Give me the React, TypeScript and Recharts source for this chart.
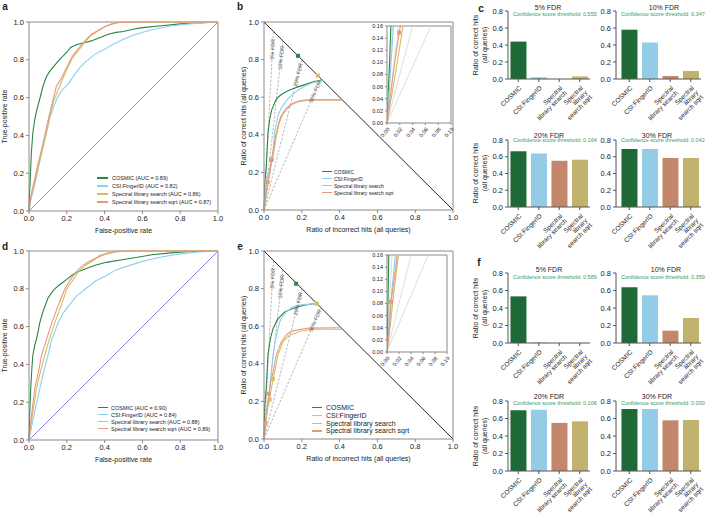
import React from "react";
import {
  LineChart,
  ComposedChart,
  BarChart,
  Line,
  Bar,
  Cell,
  Scatter,
  XAxis,
  YAxis,
  ReferenceLine,
  ReferenceDot,
} from "recharts";

const FONT = "'Liberation Sans', Arial, Helvetica, sans-serif";
const AXIS = "#8a8a8a";
const INK = "#222";

const names = ["COSMIC", "CSI:FingerID", "Spectral library search", "Spectral library search sqrt"];
const lineColors = ["#2a8543", "#8ccff0", "#d6bd62", "#e59a80"];
const barColors = ["#1e6a37", "#94cbe5", "#c3886b", "#c1b36d"];

// a: ROC curves (false-positive rate, true-positive rate)
const aCosmic = [[0, 0], [0.003, 0.1], [0.008, 0.2], [0.012, 0.3], [0.02, 0.41], [0.03, 0.48], [0.04, 0.53], [0.056, 0.59], [0.074, 0.66], [0.092, 0.71], [0.11, 0.74], [0.127, 0.76], [0.16, 0.8], [0.2, 0.84], [0.22, 0.865], [0.25, 0.88], [0.29, 0.89], [0.33, 0.9], [0.37, 0.915], [0.42, 0.935], [0.46, 0.945], [0.5, 0.95], [0.55, 0.962], [0.6, 0.97], [0.7, 0.98], [0.8, 0.99], [0.9, 0.995], [1, 1]];
const aCsi = [[0, 0], [0.01, 0.06], [0.03, 0.14], [0.05, 0.23], [0.07, 0.32], [0.092, 0.41], [0.11, 0.49], [0.13, 0.55], [0.15, 0.6], [0.175, 0.64], [0.206, 0.67], [0.24, 0.72], [0.27, 0.76], [0.3, 0.79], [0.35, 0.83], [0.39, 0.85], [0.44, 0.88], [0.48, 0.9], [0.55, 0.93], [0.64, 0.956], [0.7, 0.97], [0.76, 0.98], [0.85, 0.99], [0.95, 0.998], [1, 1]];
const aSpec = [[0, 0], [0.01, 0.07], [0.03, 0.15], [0.05, 0.24], [0.07, 0.32], [0.09, 0.41], [0.11, 0.5], [0.13, 0.58], [0.15, 0.63], [0.17, 0.68], [0.2, 0.75], [0.23, 0.81], [0.27, 0.86], [0.3, 0.9], [0.33, 0.93], [0.36, 0.95], [0.4, 0.975], [0.44, 0.99], [0.48, 0.997], [0.6, 1], [1, 1]];
const aSqrt = [[0, 0], [0.01, 0.08], [0.03, 0.17], [0.05, 0.26], [0.07, 0.34], [0.09, 0.43], [0.11, 0.52], [0.13, 0.6], [0.145, 0.66], [0.17, 0.7], [0.2, 0.76], [0.23, 0.82], [0.27, 0.87], [0.3, 0.905], [0.33, 0.935], [0.356, 0.95], [0.4, 0.975], [0.44, 0.99], [0.47, 0.997], [0.6, 1], [1, 1]];
const aAuc = ["0.89", "0.82", "0.86", "0.87"];

// d: ROC curves, second dataset
const dCosmic = [[0, 0], [0.003, 0.12], [0.009, 0.27], [0.014, 0.36], [0.02, 0.446], [0.03, 0.5], [0.04, 0.535], [0.057, 0.62], [0.074, 0.68], [0.1, 0.75], [0.12, 0.78], [0.136, 0.8], [0.16, 0.82], [0.18, 0.835], [0.2, 0.85], [0.225, 0.87], [0.26, 0.89], [0.3, 0.906], [0.35, 0.925], [0.41, 0.94], [0.5, 0.955], [0.59, 0.97], [0.65, 0.98], [0.75, 0.99], [0.85, 0.997], [1, 1]];
const dCsi = [[0, 0], [0.01, 0.05], [0.03, 0.15], [0.057, 0.27], [0.08, 0.37], [0.1, 0.446], [0.12, 0.53], [0.154, 0.62], [0.18, 0.67], [0.21, 0.71], [0.25, 0.76], [0.3, 0.8], [0.35, 0.84], [0.41, 0.87], [0.46, 0.9], [0.52, 0.92], [0.6, 0.945], [0.7, 0.968], [0.8, 0.985], [0.9, 0.995], [1, 1]];
const dSpec = [[0, 0], [0.01, 0.08], [0.039, 0.27], [0.06, 0.36], [0.083, 0.446], [0.11, 0.54], [0.136, 0.62], [0.17, 0.71], [0.2, 0.8], [0.235, 0.85], [0.26, 0.89], [0.3, 0.925], [0.34, 0.95], [0.375, 0.977], [0.42, 0.99], [0.47, 0.998], [0.55, 1], [1, 1]];
const dSqrt = [[0, 0], [0.01, 0.1], [0.03, 0.27], [0.05, 0.36], [0.066, 0.446], [0.092, 0.53], [0.12, 0.62], [0.154, 0.71], [0.19, 0.8], [0.22, 0.85], [0.25, 0.89], [0.28, 0.92], [0.31, 0.94], [0.35, 0.96], [0.39, 0.977], [0.43, 0.99], [0.47, 0.998], [0.55, 1], [1, 1]];
const dAuc = ["0.90", "0.84", "0.88", "0.89"];

// b: correct vs incorrect hits (all queries)
const bCosmic = [[0, 0], [0.002, 0.05], [0.004, 0.1], [0.006, 0.16], [0.012, 0.23], [0.021, 0.41], [0.03, 0.48], [0.04, 0.53], [0.048, 0.55], [0.06, 0.58], [0.074, 0.6], [0.1, 0.62], [0.13, 0.635], [0.153, 0.645], [0.18, 0.655], [0.206, 0.663], [0.24, 0.675], [0.27, 0.685], [0.31, 0.69]];
const bCsi = [[0, 0], [0.004, 0.06], [0.01, 0.16], [0.025, 0.2], [0.039, 0.25], [0.048, 0.32], [0.056, 0.41], [0.065, 0.46], [0.074, 0.5], [0.09, 0.54], [0.118, 0.58], [0.15, 0.615], [0.18, 0.637], [0.21, 0.655], [0.24, 0.67], [0.27, 0.68], [0.31, 0.69]];
const bSpec = [[0, 0], [0.008, 0.05], [0.016, 0.1], [0.025, 0.16], [0.032, 0.2], [0.04, 0.25], [0.05, 0.3], [0.065, 0.39], [0.08, 0.46], [0.095, 0.5], [0.118, 0.535], [0.14, 0.555], [0.16, 0.568], [0.19, 0.578], [0.22, 0.583], [0.26, 0.585], [0.41, 0.585]];
const bSqrt = [[0, 0], [0.006, 0.05], [0.012, 0.1], [0.019, 0.149], [0.021, 0.16], [0.03, 0.2], [0.04, 0.27], [0.05, 0.32], [0.065, 0.41], [0.08, 0.47], [0.09, 0.5], [0.118, 0.54], [0.14, 0.56], [0.153, 0.568], [0.18, 0.578], [0.206, 0.584], [0.25, 0.586], [0.41, 0.586]];
const bMarks = [[[0.18, 0.82]], [], [[0.285, 0.715], [0.042, 0.27]], [[0.037, 0.265], [0.019, 0.149]]];

// e: correct vs incorrect hits, second dataset
const eCosmic = [[0, 0], [0.001, 0.05], [0.002, 0.1], [0.003, 0.16], [0.006, 0.2], [0.012, 0.27], [0.021, 0.446], [0.034, 0.535], [0.048, 0.588], [0.074, 0.64], [0.11, 0.676], [0.153, 0.694], [0.206, 0.71], [0.25, 0.718], [0.28, 0.72]];
const eCsi = [[0, 0], [0.003, 0.04], [0.008, 0.1], [0.014, 0.16], [0.022, 0.2], [0.03, 0.27], [0.039, 0.36], [0.048, 0.446], [0.062, 0.535], [0.083, 0.623], [0.1, 0.655], [0.118, 0.676], [0.153, 0.703], [0.206, 0.715], [0.28, 0.72]];
const eSpec = [[0, 0], [0.005, 0.04], [0.01, 0.085], [0.019, 0.16], [0.03, 0.216], [0.048, 0.32], [0.074, 0.446], [0.1, 0.517], [0.136, 0.552], [0.19, 0.573], [0.26, 0.584], [0.41, 0.584]];
const eSqrt = [[0, 0], [0.004, 0.04], [0.0067, 0.083], [0.012, 0.12], [0.017, 0.16], [0.025, 0.234], [0.035, 0.3], [0.048, 0.357], [0.065, 0.446], [0.092, 0.517], [0.118, 0.552], [0.14, 0.57], [0.17, 0.579], [0.24, 0.59], [0.41, 0.592]];
const eMarks = [[[0.17, 0.826]], [], [[0.28, 0.72], [0.047, 0.32], [0.03, 0.21]], [[0.025, 0.24], [0.0067, 0.083]]];

const fdrLevels = [0.05, 0.1, 0.2, 0.3];
const fdrLabels = ["5% FDR", "10% FDR", "20% FDR", "30% FDR"];

// c / f: ratio of correct hits at each FDR
const barCats = [["COSMIC"], ["CSI:FingerID"], ["Spectral", "library search"], ["Spectral", "library", "search sqrt"]];
const c5 = [0.44, 0.02, 0, 0.03];
const c10 = [0.58, 0.43, 0.035, 0.095];
const c20 = [0.665, 0.64, 0.552, 0.565];
const c30 = [0.692, 0.692, 0.585, 0.585];
const cThr = ["0.555", "0.347", "0.164", "0.042"];
const f5 = [0.533, 0.005, 0, 0];
const f10 = [0.636, 0.545, 0.141, 0.286];
const f20 = [0.695, 0.7, 0.55, 0.568];
const f30 = [0.71, 0.71, 0.579, 0.583];
const fThr = ["0.589", "0.359", "0.106", "0.000"];

const pts = (arr: number[][]) => arr.map(([x, y]) => ({ x, y }));
const tickStyle = { fontSize: 7.5, fill: INK, fontFamily: FONT };
const unitTicks = [0, 0.2, 0.4, 0.6, 0.8, 1];
const fmt1 = (v: number) => v.toFixed(1);
const fmt2 = (v: number) => v.toFixed(2);

function LegendBox({ left, top, font, row, lineW, gap, labels }: any) {
  return (
    <div style={{ position: "absolute", left, top, fontFamily: FONT, fontSize: font, color: INK }}>
      {labels.map((t: string, i: number) => (
        <div key={i} style={{ display: "flex", alignItems: "center", height: row, whiteSpace: "nowrap" }}>
          <span style={{ width: lineW, height: 1.3, background: lineColors[i], marginRight: gap, flex: "none" }} />
          <span>{t}</span>
        </div>
      ))}
    </div>
  );
}

function Txt({ x, y, children, size, color, weight, anchor }: any) {
  return (
    <div
      style={{
        position: "absolute",
        left: x,
        top: y,
        transform: anchor === "start" ? "translate(0,-50%)" : "translate(-50%,-50%)",
        fontFamily: FONT,
        fontSize: size,
        color: color || INK,
        fontWeight: weight || "normal",
        whiteSpace: "nowrap",
        lineHeight: 1,
      }}
    >
      {children}
    </div>
  );
}

function RocChart({ plotTop, curves }: any) {
  return (
    <div style={{ position: "absolute", left: 0, top: plotTop - 22 }}>
      <LineChart width={226} height={240} margin={{ top: 22, right: 8, bottom: 5, left: 0 }}>
        <XAxis
          type="number"
          dataKey="x"
          domain={[0, 1]}
          ticks={unitTicks}
          tickFormatter={fmt1}
          tick={tickStyle}
          tickSize={3}
          stroke={AXIS}
          height={24}
          label={{ value: "False-positive rate", position: "insideBottom", offset: 2, fontSize: 7, fill: INK, fontFamily: FONT }}
        />
        <YAxis
          type="number"
          domain={[0, 1]}
          ticks={unitTicks}
          tickFormatter={fmt1}
          tick={tickStyle}
          tickSize={3}
          stroke={AXIS}
          width={29}
          label={{ value: "True-positive rate", angle: -90, position: "insideLeft", offset: 5, fontSize: 7, fill: INK, fontFamily: FONT, style: { textAnchor: "middle" } }}
        />
        <ReferenceLine y={1} stroke={AXIS} />
        <ReferenceLine x={1} stroke={AXIS} />
        <ReferenceLine segment={[{ x: 0, y: 0 }, { x: 1, y: 1 }]} stroke="#5a5ad6" strokeWidth={0.7} />
        {curves.map((c: number[][], i: number) => (
          <Line key={i} data={pts(c)} dataKey="y" type="linear" stroke={lineColors[i]} strokeWidth={1.1} dot={false} isAnimationActive={false} />
        ))}
      </LineChart>
    </div>
  );
}

function markShape(color: string) {
  return (p: any) => <rect x={p.cx - 2} y={p.cy - 2} width={4} height={4} fill={color} />;
}

function FdrLabel(props: any) {
  const { cx, cy, text, angle } = props;
  return (
    <text x={cx} y={cy} transform={`rotate(${angle},${cx},${cy})`} textAnchor="middle" dominantBaseline="central" fontSize={5.5} fill="#555" fontFamily={FONT}>
      {text}
    </text>
  );
}

function FdrChart({ plotTop, curves, marks }: any) {
  return (
    <div style={{ position: "absolute", left: 240, top: plotTop - 22 }}>
      <ComposedChart width={220} height={240} margin={{ top: 22, right: 7, bottom: 6, left: 0 }}>
        <XAxis
          type="number"
          dataKey="x"
          domain={[0, 1]}
          ticks={unitTicks}
          tickFormatter={fmt1}
          tick={tickStyle}
          tickSize={3}
          stroke={AXIS}
          height={24}
          label={{ value: "Ratio of incorrect hits (all queries)", position: "insideBottom", offset: 2, fontSize: 7, fill: INK, fontFamily: FONT }}
        />
        <YAxis
          type="number"
          domain={[0, 1]}
          ticks={unitTicks}
          tickFormatter={fmt1}
          tick={tickStyle}
          tickSize={3}
          stroke={AXIS}
          width={24}
          label={{ value: "Ratio of correct hits (all queries)", angle: -90, position: "insideLeft", offset: 4, fontSize: 7, fill: INK, fontFamily: FONT, style: { textAnchor: "middle" } }}
        />
        <ReferenceLine y={1} stroke={AXIS} />
        <ReferenceLine x={1} stroke={AXIS} />
        <ReferenceLine segment={[{ x: 0, y: 1 }, { x: 1, y: 0 }]} stroke="#111" strokeWidth={0.9} />
        {fdrLevels.map((f) => (
          <ReferenceLine key={f} segment={[{ x: 0, y: 0 }, { x: f, y: 1 - f }]} stroke="#999" strokeWidth={0.7} strokeDasharray="2.5 1.5" />
        ))}
        {fdrLevels.map((f, i) => (
          <ReferenceDot
            key={"l" + f}
            x={f * 0.9}
            y={(1 - f) * 0.9}
            r={0}
            shape={(p: any) => <FdrLabel {...p} text={fdrLabels[i]} angle={-(Math.atan((1 - f) / f) * 180) / Math.PI} />}
          />
        ))}
        {curves.map((c: number[][], i: number) => (
          <Line key={i} data={pts(c)} dataKey="y" type="linear" stroke={lineColors[i]} strokeWidth={1.1} dot={false} isAnimationActive={false} />
        ))}
        {marks.map((m: number[][], i: number) =>
          m.length ? <Scatter key={"m" + i} data={pts(m)} dataKey="y" fill={lineColors[i]} shape={markShape(lineColors[i])} isAnimationActive={false} /> : null
        )}
      </ComposedChart>
    </div>
  );
}

function Inset({ plotLeft, plotTop, plotW, curves, marks }: any) {
  const yt = [0, 0.02, 0.04, 0.06, 0.08, 0.1, 0.12, 0.14, 0.16];
  const xt = [0, 0.02, 0.04, 0.06, 0.08, 0.1];
  return (
    <div style={{ position: "absolute", left: plotLeft - 22, top: plotTop - 3 }}>
      <ComposedChart width={22 + plotW + 4} height={3 + 97 + 22} margin={{ top: 3, right: 4, bottom: 0, left: 0 }}>
        <XAxis type="number" dataKey="x" domain={[0, 0.1]} allowDataOverflow ticks={xt} interval={0} tickFormatter={fmt2} tick={{ fontSize: 5.5, fill: INK, fontFamily: FONT, angle: -50, textAnchor: "end" }} tickSize={2} stroke={AXIS} height={22} />
        <YAxis type="number" domain={[0, 0.16]} allowDataOverflow ticks={yt} interval={0} tickFormatter={fmt2} tick={{ fontSize: 5.5, fill: INK, fontFamily: FONT }} tickSize={2} stroke={AXIS} width={22} />
        <ReferenceLine y={0.16} stroke={AXIS} />
        <ReferenceLine x={0.1} stroke={AXIS} />
        {fdrLevels.map((f) => (
          <ReferenceLine key={f} segment={[{ x: 0, y: 0 }, { x: f, y: 1 - f }]} stroke="#cfcfcf" strokeWidth={0.7} ifOverflow="hidden" />
        ))}
        {curves.map((c: number[][], i: number) => (
          <Line key={i} data={pts(c)} dataKey="y" type="linear" stroke={lineColors[i]} strokeWidth={1.1} dot={false} isAnimationActive={false} />
        ))}
        {marks.map((m: number[][], i: number) =>
          m.length ? <Scatter key={"m" + i} data={pts(m)} dataKey="y" fill={lineColors[i]} shape={markShape(lineColors[i])} isAnimationActive={false} /> : null
        )}
      </ComposedChart>
    </div>
  );
}

function CatTick(props: any) {
  const { x, y, payload } = props;
  const lines = barCats[payload.index] || [String(payload.value)];
  return (
    <g transform={`translate(${x + 1},${y + 2}) rotate(-45)`}>
      <text textAnchor="end" fontSize={6.5} fill={INK} fontFamily={FONT}>
        {lines.map((l: string, i: number) => (
          <tspan key={i} x={0} dy={i === 0 ? 3.5 : 6.5}>
            {l}
          </tspan>
        ))}
      </text>
    </g>
  );
}

function BarPanel({ axisX, plotTop, plotH, plotW, values, padL, right }: any) {
  const data = values.map((v: number, i: number) => ({ name: names[i], value: v }));
  return (
    <div style={{ position: "absolute", left: axisX - 24, top: plotTop - 4 }}>
      <BarChart width={24 + plotW + right} height={4 + plotH + 60} data={data} margin={{ top: 4, right, bottom: 0, left: 0 }} barCategoryGap="12%">
        <XAxis dataKey="name" tick={<CatTick />} interval={0} tickSize={3} stroke="#555" height={60} padding={{ left: padL, right: 0 }} />
        <YAxis type="number" domain={[0, 0.8]} ticks={[0, 0.2, 0.4, 0.6, 0.8]} tickFormatter={fmt1} tick={tickStyle} tickSize={3} stroke="#555" width={24} />
        <Bar dataKey="value" isAnimationActive={false}>
          {data.map((_: any, i: number) => (
            <Cell key={i} fill={barColors[i]} />
          ))}
        </Bar>
      </BarChart>
    </div>
  );
}

function BarYLabel({ cy }: any) {
  return (
    <div
      style={{
        position: "absolute",
        left: 480,
        top: cy,
        transform: "translate(-50%,-50%) rotate(-90deg)",
        fontFamily: FONT,
        fontSize: 7,
        color: INK,
        textAlign: "center",
        lineHeight: "9px",
        whiteSpace: "nowrap",
      }}
    >
      Ratio of correct hits
      <br />
      (all queries)
    </div>
  );
}

export default function App() {
  const aLegend = names.map((n, i) => `${n} (AUC = ${aAuc[i]})`);
  const dLegend = names.map((n, i) => `${n} (AUC = ${dAuc[i]})`);
  const bars = [
    { x: 508, top: 11, h: 68, w: 82, pad: 0, r: 6, vals: c5, title: fdrLabels[0], tx: 548, ty: 7, thr: cThr[0], thy: 15 },
    { x: 616, top: 11, h: 68, w: 85, pad: 3, r: 5, vals: c10, title: fdrLabels[1], tx: 664, ty: 7, thr: cThr[1], thy: 15 },
    { x: 508, top: 140, h: 67, w: 82, pad: 0, r: 6, vals: c20, title: fdrLabels[2], tx: 549, ty: 135, thr: cThr[2], thy: 141 },
    { x: 616, top: 140, h: 67, w: 85, pad: 3, r: 5, vals: c30, title: fdrLabels[3], tx: 657, ty: 135, thr: cThr[3], thy: 141 },
    { x: 508, top: 273, h: 70, w: 82, pad: 0, r: 6, vals: f5, title: fdrLabels[0], tx: 549, ty: 269, thr: fThr[0], thy: 278 },
    { x: 616, top: 273, h: 70, w: 85, pad: 3, r: 5, vals: f10, title: fdrLabels[1], tx: 666, ty: 269, thr: fThr[1], thy: 278 },
    { x: 508, top: 401, h: 70, w: 82, pad: 0, r: 6, vals: f20, title: fdrLabels[2], tx: 549, ty: 396, thr: fThr[2], thy: 404 },
    { x: 616, top: 401, h: 70, w: 85, pad: 3, r: 5, vals: f30, title: fdrLabels[3], tx: 657, ty: 396, thr: fThr[3], thy: 404 },
  ];
  return (
    <div style={{ position: "absolute", left: 0, top: 0, width: 706, height: 514, background: "#fff", overflow: "hidden" }}>
      <RocChart plotTop={22} curves={[aCosmic, aCsi, aSpec, aSqrt]} />
      <LegendBox left={97} top={174} font={5.5} row={8} lineW={11} gap={4} labels={aLegend} />
      <RocChart plotTop={251} curves={[dCosmic, dCsi, dSpec, dSqrt]} />
      <LegendBox left={98} top={404} font={5.5} row={7} lineW={10} gap={3} labels={dLegend} />

      <FdrChart plotTop={22} curves={[bCosmic, bCsi, bSpec, bSqrt]} marks={bMarks} />
      <Inset plotLeft={387} plotTop={26} plotW={64} curves={[bCosmic, bCsi, bSpec, bSqrt]} marks={bMarks} />
      <LegendBox left={322} top={168} font={5} row={7} lineW={10} gap={2} labels={names} />
      <FdrChart plotTop={251} curves={[eCosmic, eCsi, eSpec, eSqrt]} marks={eMarks} />
      <Inset plotLeft={387} plotTop={255} plotW={60} curves={[eCosmic, eCsi, eSpec, eSqrt]} marks={eMarks} />
      <LegendBox left={312} top={404} font={7} row={7.7} lineW={10} gap={4} labels={names} />

      {bars.map((b, i) => (
        <React.Fragment key={i}>
          <BarPanel axisX={b.x} plotTop={b.top} plotH={b.h} plotW={b.w} values={b.vals} padL={b.pad} right={b.r} />
          <Txt x={b.tx} y={b.ty} size={7}>{b.title}</Txt>
          <Txt x={b.x + 5} y={b.thy} size={5.5} color="#3a9a5c" anchor="start">
            {"Confidence score threshold: " + b.thr}
          </Txt>
        </React.Fragment>
      ))}
      <BarYLabel cy={45} />
      <BarYLabel cy={173} />
      <BarYLabel cy={308} />
      <BarYLabel cy={436} />

      <Txt x={5} y={7} size={10} weight="bold">a</Txt>
      <Txt x={240} y={7} size={10} weight="bold">b</Txt>
      <Txt x={481} y={9} size={10} weight="bold">c</Txt>
      <Txt x={5} y={247} size={10} weight="bold">d</Txt>
      <Txt x={240} y={247} size={10} weight="bold">e</Txt>
      <Txt x={479} y={263} size={10} weight="bold">f</Txt>
    </div>
  );
}
